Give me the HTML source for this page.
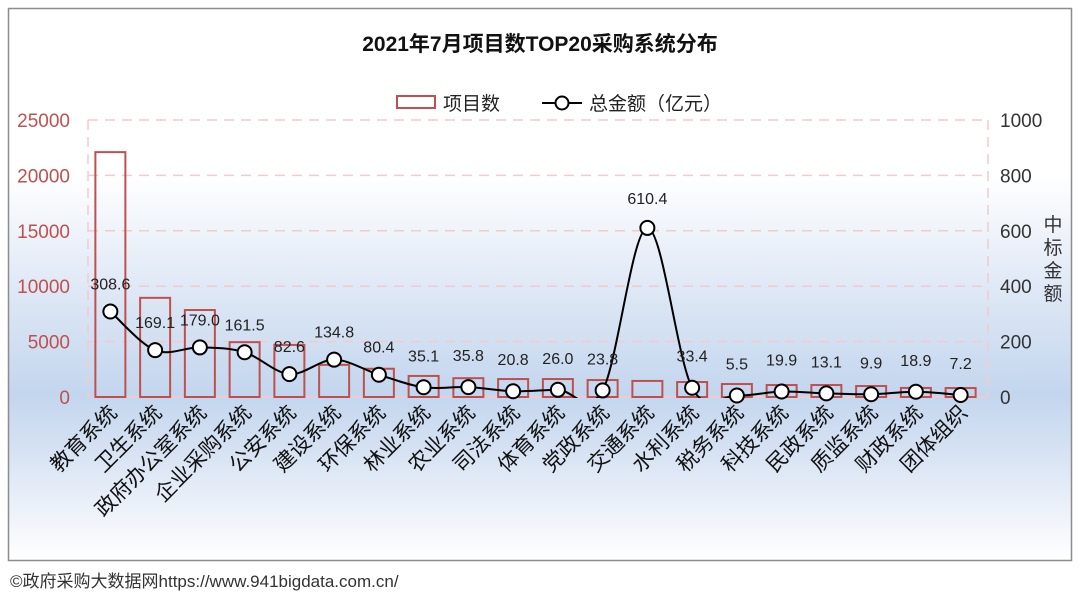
<!DOCTYPE html>
<html><head><meta charset="utf-8">
<style>
html,body{margin:0;padding:0;background:#fff;}
body{width:1080px;height:596px;overflow:hidden;font-family:"Liberation Sans","Noto Sans CJK SC",sans-serif;}
</style></head>
<body>
<svg id="chart" width="1080" height="596" xmlns="http://www.w3.org/2000/svg">
<defs>
<linearGradient id="bg" x1="0" y1="0" x2="0" y2="1">
<stop offset="0" stop-color="#ffffff"/>
<stop offset="0.3" stop-color="#ffffff"/>
<stop offset="0.5" stop-color="#e0e9f6"/>
<stop offset="0.7" stop-color="#c3d6ee"/>
<stop offset="0.8" stop-color="#d6e2f3"/>
<stop offset="1" stop-color="#ffffff"/>
</linearGradient>
<clipPath id="clip"><rect x="80" y="100" width="920" height="298"/></clipPath>
</defs>
<rect x="8.5" y="8.5" width="1063" height="552" fill="url(#bg)" stroke="#8c8c8c" stroke-width="1.5"/>
<text x="540" y="51" text-anchor="middle" font-size="21" font-weight="bold" fill="#111">2021年7月项目数TOP20采购系统分布</text>
<g>
<rect x="397" y="96" width="38" height="12" fill="none" stroke="#c0504d" stroke-width="2"/>
<text x="443" y="110" font-size="19" fill="#222">项目数</text>
<line x1="542" y1="103" x2="582" y2="103" stroke="#000" stroke-width="2"/>
<circle cx="562" cy="103" r="6.5" fill="#fff" stroke="#000" stroke-width="2"/>
<text x="589" y="110" font-size="19" fill="#222">总金额（亿元）</text>
</g>
<g id="grid"></g>
<g id="bars"></g>
<g id="line"></g>
<g id="axes"></g>
<text x="1053" y="231" text-anchor="middle" font-size="19" fill="#333"><tspan x="1053">中</tspan><tspan x="1053" dy="23">标</tspan><tspan x="1053" dy="23">金</tspan><tspan x="1053" dy="23">额</tspan></text>
<text x="10" y="587" font-size="17" fill="#333">©政府采购大数据网https://www.941bigdata.com.cn/</text>
</svg>
<script>
const categories=["教育系统","卫生系统","政府办公室系统","企业采购系统","公安系统","建设系统","环保系统","林业系统","农业系统","司法系统","体育系统","党政系统","交通系统","水利系统","税务系统","科技系统","民政系统","质监系统","财政系统","团体组织"];
const projectCounts=[22100,8950,7850,4950,4700,2900,2550,1900,1700,1620,1620,1530,1450,1350,1170,1080,1080,990,820,810];
const amounts=[308.6,169.1,179.0,161.5,82.6,134.8,80.4,35.1,35.8,20.8,26.0,23.8,610.4,33.4,5.5,19.9,13.1,9.9,18.9,7.2];
const leftTicks=[0,5000,10000,15000,20000,25000];
const rightTicks=[0,200,400,600,800,1000];

const NS="http://www.w3.org/2000/svg";
const X0=88,X1=983,Y0=397,Y1=120;
const step=(X1-X0)/categories.length;
const xc=i=>X0+step*(i+0.5);
const yL=v=>Y0-(v/25000)*(Y0-Y1);
const yR=v=>Y0-(v/1000)*(Y0-Y1);
function mk(tag,attrs,parent){const e=document.createElementNS(NS,tag);for(const k in attrs)e.setAttribute(k,attrs[k]);parent.appendChild(e);return e;}
const grid=document.getElementById('grid'),bars=document.getElementById('bars'),line=document.getElementById('line'),axes=document.getElementById('axes');

leftTicks.forEach((t,i)=>{
  const y=yL(t);
  if(t>0){const g=mk('line',{x1:X0,y1:y,x2:988,y2:y,stroke:'#f2cccc','stroke-width':1.5,'stroke-dasharray':'10,7'},grid);
  
  }
  const tx=mk('text',{x:70,y:y+7,'text-anchor':'end','font-size':19,fill:'#c0504d'},axes);
  tx.textContent=t;
  
  
});
rightTicks.forEach(t=>{
  const y=yR(t);
  const tx=mk('text',{x:1000,y:y+7,'font-size':19,fill:'#333'},axes);
  tx.textContent=t;
  
  
});
[[X0,'left-axis-line'],[988,'right-axis-line']].forEach(([x,n])=>{
  const l=mk('line',{x1:x,y1:Y1,x2:x,y2:Y0,stroke:'#f2cccc','stroke-width':1.5,'stroke-dasharray':'10,7'},grid);
  
  
});
const base=mk('line',{x1:X0,y1:Y0,x2:988,y2:Y0,stroke:'#f2cccc','stroke-width':1.5},grid);



const bw=30;
projectCounts.forEach((v,i)=>{
  const y=yL(v);
  const r=mk('rect',{x:xc(i)-bw/2,y:y,width:bw,height:Y0-y,fill:'none',stroke:'#c0504d','stroke-width':2},bars);
  
  
});
categories.forEach((c,i)=>{
  const x=xc(i)+8,y=414;
  const t=mk('text',{x:x,y:y,'text-anchor':'end','font-size':21,fill:'#111',transform:`rotate(-45 ${x} ${y})`},axes);
  t.textContent=c;
  
  
});

const pts=amounts.map((v,i)=>[xc(i),yR(v)]);
let d=`M${pts[0][0]},${pts[0][1]}`;
for(let i=0;i<pts.length-1;i++){
  const p0=pts[Math.max(0,i-1)],p1=pts[i],p2=pts[i+1],p3=pts[Math.min(pts.length-1,i+2)];
  const t=1/6;
  const c1=[p1[0]+(p2[0]-p0[0])*t,p1[1]+(p2[1]-p0[1])*t];
  const c2=[p2[0]-(p3[0]-p1[0])*t,p2[1]-(p3[1]-p1[1])*t];
  d+=` C${c1[0]},${c1[1]} ${c2[0]},${c2[1]} ${p2[0]},${p2[1]}`;
}
const path=mk('path',{d:d,fill:'none',stroke:'#000','stroke-width':2,'clip-path':'url(#clip)'},line);


pts.forEach((p,i)=>{
  const c=mk('circle',{cx:p[0],cy:p[1],r:7,fill:'#fff',stroke:'#000','stroke-width':2},line);
  
  
  const t=mk('text',{x:p[0],y:i===12?p[1]-24:(amounts[i]<50?Math.min(p[1]-26,375):p[1]-22),'text-anchor':'middle','font-size':16,fill:'#222'},line);
  t.textContent=amounts[i].toFixed(1);
  
  
});
</script>
</body></html>
